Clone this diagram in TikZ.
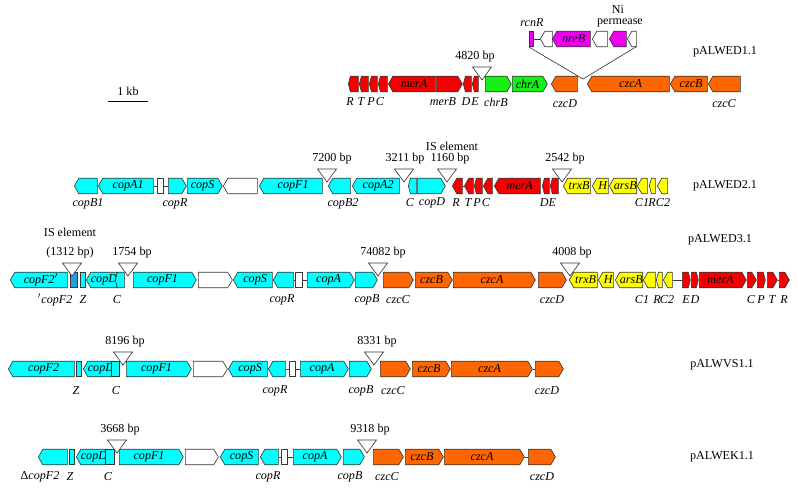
\documentclass[tikz,border=0pt]{standalone}
\usepackage{fontspec}
\setmainfont{Liberation Serif}
\usetikzlibrary{shapes.symbols}

\definecolor{outl}{RGB}{55,55,55}
\definecolor{cyangene}{RGB}{0,255,255}
\definecolor{bluegene}{RGB}{30,160,225}
\definecolor{orangegene}{RGB}{255,102,0}
\definecolor{redgene}{RGB}{245,0,0}
\definecolor{greengene}{RGB}{20,240,20}
\definecolor{yellowgene}{RGB}{255,255,0}
\definecolor{magentagene}{RGB}{240,0,240}

% gene arrow: style, name, left x, right x, row y, text
\newcommand{\gene}[6]{\node[#1, minimum width=(#4-#3)*0.025cm] (#2) at (#3,#5) {#6};}
% insertion mark: name, apex x, apex y, label x, label
\newcommand{\inspt}[5]{%
  \coordinate (#1) at (#2,#3);
  \draw[insmark] (#1) -- ++(-9.5,-13) -- ++(19,0) -- cycle;
  \node[inslbl] (#1t) at (#4,#3-23) {#5};}

\begin{document}
\begin{tikzpicture}[
    x=0.025cm, y=-0.025cm,
    font=\fontsize{8.6}{10}\selectfont,
    gene/.style={
      signal, draw=outl, line width=0.45pt, anchor=west,
      minimum height=0.39cm, inner sep=0pt,
      signal pointer angle=120,
      font=\fontsize{8.6}{10}\selectfont\itshape
    },
    fwd/.style={gene, signal to=east},
    rev/.style={gene, signal to=west},
    blk/.style={gene, signal to=nowhere},
    tiny/.style={signal pointer angle=150},
    cy/.style={fill=cyangene},
    bl/.style={fill=bluegene},
    og/.style={fill=orangegene},
    rd/.style={fill=redgene},
    gr/.style={fill=greengene},
    yl/.style={fill=yellowgene},
    mg/.style={fill=magentagene},
    wh/.style={fill=white},
    glbl/.style={font=\fontsize{8.6}{10}\selectfont\itshape, inner sep=0pt},
    inslbl/.style={inner sep=0pt},
    insmark/.style={draw=outl, fill=white, line width=0.45pt},
    link/.style={draw=outl, line width=0.45pt}
  ]
  \useasboundingbox (0,0) rectangle (798,492);

  % scale bar
  \coordinate (sb1) at (108,101);
  \coordinate (sb2) at (148,101);
  \draw[line width=0.6pt] (sb1) -- (sb2);
  \node[inslbl] (kb) at (128,91) {1 kb};

  % pALWED1.1
  \gene{rev,rd,tiny}{aR}{348}{358}{84}{}
  \gene{rev,rd,tiny}{aT}{359}{368}{84}{}
  \gene{rev,rd,tiny}{aP}{369}{377}{84}{}
  \gene{rev,rd,tiny}{aC}{378}{387}{84}{}
  \gene{rev,rd}{amerA}{388}{435}{84}{merA}
  \gene{fwd,rd}{amerB}{436}{462}{84}{}
  \gene{rev,rd,tiny}{aD}{463}{471}{84}{}
  \gene{rev,rd,tiny}{aE}{472}{478}{84}{}
  \gene{fwd,gr}{achrB}{485}{511}{84}{}
  \gene{fwd,gr}{achrA}{512}{547}{84}{chrA}
  \gene{rev,og}{aczcD}{551}{577}{84}{}
  \gene{rev,og}{aczcA}{587}{669}{84}{czcA}
  \gene{rev,og}{aczcB}{670}{707}{84}{czcB}
  \gene{rev,og}{aczcC}{708}{740}{84}{}
  \inspt{a4820}{482}{80}{475}{4820 bp}
  \node[glbl] (laR) at (350,102) {R};
  \node[glbl] (laT) at (361,102) {T};
  \node[glbl] (laP) at (371,102) {P};
  \node[glbl] (laC) at (380,102) {C};
  \node[glbl] (lamerB) at (443,102) {merB};
  \node[glbl] (laD) at (466,102) {D};
  \node[glbl] (laE) at (475,102) {E};
  \node[glbl] (lachrB) at (496,102) {chrB};
  \node[glbl] (laczcD) at (565,104) {czcD};
  \node[glbl] (laczcC) at (724,104) {czcC};
  \node[inslbl] (pa) at (725,52) {pALWED1.1};

  % Ni inset
  \gene{blk,mg}{nrcnR}{529}{533}{39}{}
  \gene{rev,wh}{nw1}{540}{552}{39}{}
  \gene{rev,mg}{nnreB}{552}{590}{39}{nreB}
  \gene{rev,wh}{nw2}{592}{607}{39}{}
  \gene{rev,mg}{nNi}{609}{626}{39}{}
  \gene{rev,wh}{nw3}{627}{636}{39}{}
  \draw[link] (nrcnR.east) -- (nw1.west);
  \coordinate (nins) at (583,79);
  \draw[link] (nrcnR.south west) -- (nins) -- (nw3.south east);
  \node[glbl] (lnrcnR) at (532,23) {rcnR};
  \node[inslbl] (lnNi) at (618,9) {Ni};
  \node[inslbl] (lnperm) at (620,23) {permease};

  % pALWED2.1
  \gene{rev,cy}{bcopB1}{74}{97}{186}{}
  \gene{rev,cy}{bcopA1}{98}{153}{186}{copA1}
  \gene{blk,wh}{bw1}{157}{163}{186}{}
  \gene{fwd,cy}{bcopR}{168}{186}{186}{}
  \gene{fwd,cy}{bcopS}{187}{222}{186}{copS}
  \gene{rev,wh}{bw2}{223}{257}{186}{}
  \gene{rev,cy}{bcopF1}{259}{322}{186}{copF1}
  \gene{rev,cy}{bcopB2}{328}{350}{186}{}
  \gene{rev,cy}{bcopA2}{352}{399}{186}{copA2}
  \gene{rev,cy,tiny}{bC}{408}{416}{186}{}
  \gene{fwd,cy}{bcopD}{417}{445}{186}{}
  \gene{rev,rd}{bR}{452}{462}{186}{}
  \gene{rev,rd}{bT}{464}{473}{186}{}
  \gene{rev,rd,tiny}{bP}{474}{482}{186}{}
  \gene{rev,rd}{bCm}{483}{492}{186}{}
  \gene{rev,rd}{bmerA}{494}{540}{186}{merA}
  \gene{rev,rd,tiny}{bD}{542}{549}{186}{}
  \gene{rev,rd,tiny}{bE}{550}{558}{186}{}
  \gene{rev,yl}{btrxB}{563}{590}{186}{trxB}
  \gene{rev,yl}{bH}{592}{608}{186}{H}
  \gene{rev,yl}{barsB}{609}{635}{186}{arsB}
  \gene{rev,yl}{bC1}{637}{647}{186}{}
  \gene{rev,yl,tiny}{bRa}{649}{655}{186}{}
  \gene{rev,yl}{bC2}{657}{667}{186}{}
  \draw[link] (bcopA1.east) -- (bw1.west);
  \draw[link] (bw1.east) -- (bcopR.west);
  \draw[link] (bR.east) -- (bT.west);
  \inspt{b7200}{327}{182}{332}{7200 bp}
  \inspt{b3211}{404}{182}{405}{3211 bp}
  \inspt{b1160}{447}{182}{450}{1160 bp}
  \node[inslbl] (bIS) at (452,146) {IS element};
  \inspt{b2542}{562}{182}{565}{2542 bp}
  \node[glbl] (lbcopB1) at (88,204) {copB1};
  \node[glbl] (lbcopR) at (175,204) {copR};
  \node[glbl] (lbcopB2) at (343,204) {copB2};
  \node[glbl] (lbC) at (410,203) {C};
  \node[glbl] (lbcopD) at (432,203) {copD};
  \node[glbl] (lbR) at (456,203) {R};
  \node[glbl] (lbT) at (468,203) {T};
  \node[glbl] (lbP) at (477,203) {P};
  \node[glbl] (lbCm) at (486,203) {C};
  \node[glbl] (lbDE) at (548,203) {DE};
  \node[glbl] (lbC1) at (642,203) {C1};
  \node[glbl] (lbRa) at (652,203) {R};
  \node[glbl] (lbC2) at (663,203) {C2};
  \node[inslbl] (pb) at (725,186) {pALWED2.1};

  % pALWED3.1
  \gene{rev,cy}{ccopFp}{10}{67}{280}{copF2$'$}
  \gene{blk,bl}{cIS}{70}{77}{280}{}
  \gene{blk,cy}{cZ}{80}{85}{280}{}
  \gene{rev,cy}{ccopD}{86}{113}{280}{copD}
  \gene{rev,cy,tiny}{cC}{115}{124}{280}{}
  \gene{fwd,cy}{ccopF1}{133}{196}{280}{copF1}
  \gene{fwd,wh}{cw1}{198}{232}{280}{}
  \gene{rev,cy}{ccopS}{233}{272}{280}{copS}
  \gene{rev,cy}{ccopR}{273}{293}{280}{}
  \gene{blk,wh}{cw2}{295}{302}{280}{}
  \gene{fwd,cy}{ccopA}{307}{354}{280}{copA}
  \gene{fwd,cy}{ccopB}{355}{377}{280}{}
  \gene{fwd,og}{cczcC}{383}{413}{280}{}
  \gene{fwd,og}{cczcB}{415}{452}{280}{czcB}
  \gene{fwd,og}{cczcA}{453}{535}{280}{czcA}
  \gene{fwd,og}{cczcD}{538}{566}{280}{}
  \gene{rev,yl}{ctrxB}{569}{597}{280}{trxB}
  \gene{rev,yl}{cH}{598}{613}{280}{H}
  \gene{rev,yl}{carsB}{615}{642}{280}{arsB}
  \gene{rev,yl}{cC1}{643}{655}{280}{}
  \gene{rev,yl,tiny}{cRa}{656}{662}{280}{}
  \gene{rev,yl}{cC2}{663}{672}{280}{}
  \gene{fwd,rd,tiny}{cE}{682}{690}{280}{}
  \gene{fwd,rd,tiny}{cD}{691}{698}{280}{}
  \gene{fwd,rd}{cmerA}{699}{746}{280}{merA}
  \gene{fwd,rd}{cCm}{747}{756}{280}{}
  \gene{fwd,rd,tiny}{cP}{757}{765}{280}{}
  \gene{fwd,rd}{cT}{767}{777}{280}{}
  \gene{fwd,rd}{cR}{779}{789}{280}{}
  \draw[link] (ccopR.east) -- (cw2.west);
  \draw[link] (cw2.east) -- (ccopA.west);
  \draw[link] (cC2.east) -- (cE.west);
  \draw[link] (cT.east) -- (cR.west);
  \inspt{c1312}{72}{276}{70}{(1312 bp)}
  \node[inslbl] (cISl) at (70,232) {IS element};
  \inspt{c1754}{128}{276}{132}{1754 bp}
  \inspt{c74082}{378}{276}{383}{74082 bp}
  \inspt{c4008}{570}{276}{572}{4008 bp}
  \node[glbl] (lccopFp) at (55,300) {$'$copF2};
  \node[glbl] (lcZ) at (83,300) {Z};
  \node[glbl] (lcC) at (117,300) {C};
  \node[glbl] (lccopR) at (282,300) {copR};
  \node[glbl] (lccopB) at (367,300) {copB};
  \node[glbl] (lcczcC) at (398,300) {czcC};
  \node[glbl] (lcczcD) at (552,300) {czcD};
  \node[glbl] (lcC1) at (642,300) {C1};
  \node[glbl] (lcRa) at (657,300) {R};
  \node[glbl] (lcC2) at (667,300) {C2};
  \node[glbl] (lcE) at (686,300) {E};
  \node[glbl] (lcD) at (695,300) {D};
  \node[glbl] (lcCm) at (751,300) {C};
  \node[glbl] (lcP) at (761,300) {P};
  \node[glbl] (lcT) at (772,300) {T};
  \node[glbl] (lcR) at (784,300) {R};
  \node[inslbl] (pc) at (720,240) {pALWED3.1};

  % pALWVS1.1
  \gene{rev,cy}{dcopF2}{8}{74}{369}{copF2}
  \gene{blk,cy}{dZ}{76}{81}{369}{}
  \gene{rev,cy}{dcopD}{83}{109}{369}{copD}
  \gene{blk,cy}{dC}{111}{119}{369}{}
  \gene{fwd,cy}{dcopF1}{126}{191}{369}{copF1}
  \gene{fwd,wh}{dw1}{193}{227}{369}{}
  \gene{rev,cy}{dcopS}{228}{267}{369}{copS}
  \gene{rev,cy}{dcopR}{268}{285}{369}{}
  \gene{blk,wh}{dw2}{289}{295}{369}{}
  \gene{fwd,cy}{dcopA}{300}{348}{369}{copA}
  \gene{fwd,cy}{dcopB}{349}{371}{369}{}
  \gene{fwd,og}{dczcC}{380}{410}{369}{}
  \gene{fwd,og}{dczcB}{412}{450}{369}{czcB}
  \gene{fwd,og}{dczcA}{451}{532}{369}{czcA}
  \gene{fwd,og}{dczcD}{535}{563}{369}{}
  \draw[link] (dcopR.east) -- (dw2.west);
  \draw[link] (dw2.east) -- (dcopA.west);
  \draw[link] (dczcA.east) -- (dczcD.west);
  \inspt{d8196}{123}{365}{125}{8196 bp}
  \inspt{d8331}{374}{365}{377}{8331 bp}
  \node[glbl] (ldZ) at (76,391) {Z};
  \node[glbl] (ldC) at (116,391) {C};
  \node[glbl] (ldcopR) at (275,391) {copR};
  \node[glbl] (ldcopB) at (361,391) {copB};
  \node[glbl] (ldczcC) at (393,391) {czcC};
  \node[glbl] (ldczcD) at (547,391) {czcD};
  \node[inslbl] (pd) at (722,365) {pALWVS1.1};

  % pALWEK1.1
  \gene{rev,cy}{ecopF2}{38}{67}{457}{}
  \gene{blk,cy}{eZ}{69}{74}{457}{}
  \gene{rev,cy}{ecopD}{76}{103}{457}{copD}
  \gene{blk,cy}{eC}{105}{114}{457}{}
  \gene{fwd,cy}{ecopF1}{119}{183}{457}{copF1}
  \gene{fwd,wh}{ew1}{185}{218}{457}{}
  \gene{rev,cy}{ecopS}{220}{258}{457}{copS}
  \gene{rev,cy}{ecopR}{260}{278}{457}{}
  \gene{blk,wh}{ew2}{281}{287}{457}{}
  \gene{fwd,cy}{ecopA}{293}{341}{457}{copA}
  \gene{fwd,cy}{ecopB}{343}{364}{457}{}
  \gene{fwd,og}{eczcC}{373}{403}{457}{}
  \gene{fwd,og}{eczcB}{405}{443}{457}{czcB}
  \gene{fwd,og}{eczcA}{444}{524}{457}{czcA}
  \gene{fwd,og}{eczcD}{528}{555}{457}{}
  \draw[link] (ecopR.east) -- (ew2.west);
  \draw[link] (ew2.east) -- (ecopA.west);
  \draw[link] (eczcA.east) -- (eczcD.west);
  \inspt{e3668}{117}{453}{120}{3668 bp}
  \inspt{e9318}{367}{453}{370}{9318 bp}
  \node[glbl] (lecopF2) at (40,477) {{\upshape Δ}copF2};
  \node[glbl] (leZ) at (70,477) {Z};
  \node[glbl] (leC) at (108,477) {C};
  \node[glbl] (lecopR) at (268,477) {copR};
  \node[glbl] (lecopB) at (350,477) {copB};
  \node[glbl] (leczcC) at (387,477) {czcC};
  \node[glbl] (leczcD) at (542,477) {czcD};
  \node[inslbl] (pe) at (722,457) {pALWEK1.1};
\end{tikzpicture}
\end{document}
